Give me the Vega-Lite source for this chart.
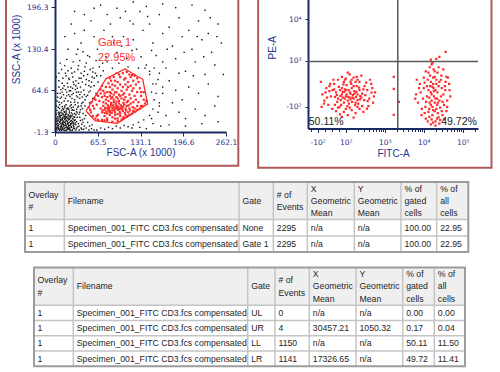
{
"$schema":"https://vega.github.io/schema/vega-lite/v6.json",
"background":"#ffffff",
"padding":{"left":5,"top":-35,"right":2,"bottom":2},
"spacing":12,
"config":{
 "view":{"stroke":null},
 "font":"Liberation Sans",
 "axis":{"grid":false,"domainColor":"#1c2a63","domainWidth":2,"tickColor":"#1c2a63","tickWidth":1,"labelColor":"#2a3590","labelFont":"DejaVu Sans","labelFontSize":7.5,"titleColor":"#2a3590","titleFont":"Liberation Sans","titleFontSize":10,"titleFontWeight":"normal","labelFlush":false,"labelOverlap":false}
},
"datasets":{
 "fsc_ssc":[
{"fsc":3,"ssc":2,"g":0},{"fsc":5,"ssc":4,"g":0},{"fsc":7,"ssc":1,"g":0},{"fsc":9,"ssc":3,"g":0},{"fsc":11,"ssc":6,"g":0},{"fsc":13,"ssc":2,"g":0},{"fsc":15,"ssc":5,"g":0},{"fsc":17,"ssc":1,"g":0},{"fsc":19,"ssc":4,"g":0},{"fsc":21,"ssc":7,"g":0},{"fsc":23,"ssc":3,"g":0},{"fsc":25,"ssc":6,"g":0},{"fsc":27,"ssc":2,"g":0},{"fsc":4,"ssc":8,"g":0},{"fsc":6,"ssc":11,"g":0},{"fsc":8,"ssc":7,"g":0},{"fsc":10,"ssc":10,"g":0},{"fsc":12,"ssc":13,"g":0},{"fsc":14,"ssc":9,"g":0},{"fsc":16,"ssc":12,"g":0},{"fsc":18,"ssc":8,"g":0},{"fsc":20,"ssc":11,"g":0},{"fsc":22,"ssc":14,"g":0},{"fsc":24,"ssc":10,"g":0},{"fsc":26,"ssc":13,"g":0},{"fsc":28,"ssc":9,"g":0},{"fsc":3,"ssc":15,"g":0},{"fsc":5,"ssc":18,"g":0},{"fsc":7,"ssc":14,"g":0},{"fsc":9,"ssc":17,"g":0},{"fsc":11,"ssc":20,"g":0},{"fsc":13,"ssc":16,"g":0},{"fsc":15,"ssc":19,"g":0},{"fsc":17,"ssc":22,"g":0},{"fsc":19,"ssc":15,"g":0},{"fsc":21,"ssc":18,"g":0},{"fsc":23,"ssc":21,"g":0},{"fsc":25,"ssc":17,"g":0},{"fsc":27,"ssc":20,"g":0},{"fsc":4,"ssc":23,"g":0},{"fsc":6,"ssc":26,"g":0},{"fsc":8,"ssc":22,"g":0},{"fsc":10,"ssc":25,"g":0},{"fsc":12,"ssc":28,"g":0},{"fsc":14,"ssc":24,"g":0},{"fsc":16,"ssc":27,"g":0},{"fsc":18,"ssc":23,"g":0},{"fsc":20,"ssc":26,"g":0},{"fsc":22,"ssc":29,"g":0},{"fsc":24,"ssc":25,"g":0},{"fsc":2,"ssc":5,"g":0},{"fsc":6,"ssc":3,"g":0},{"fsc":10,"ssc":1,"g":0},{"fsc":14,"ssc":4,"g":0},{"fsc":18,"ssc":2,"g":0},{"fsc":22,"ssc":5,"g":0},{"fsc":26,"ssc":1,"g":0},{"fsc":30,"ssc":4,"g":0},{"fsc":4,"ssc":12,"g":0},{"fsc":8,"ssc":15,"g":0},{"fsc":12,"ssc":11,"g":0},{"fsc":16,"ssc":16,"g":0},{"fsc":20,"ssc":13,"g":0},{"fsc":24,"ssc":16,"g":0},{"fsc":28,"ssc":13,"g":0},{"fsc":32,"ssc":10,"g":0},{"fsc":3,"ssc":20,"g":0},{"fsc":7,"ssc":24,"g":0},{"fsc":11,"ssc":19,"g":0},{"fsc":15,"ssc":23,"g":0},{"fsc":19,"ssc":20,"g":0},{"fsc":23,"ssc":24,"g":0},{"fsc":27,"ssc":27,"g":0},{"fsc":31,"ssc":18,"g":0},{"fsc":6,"ssc":30,"g":0},{"fsc":10,"ssc":33,"g":0},{"fsc":14,"ssc":31,"g":0},{"fsc":18,"ssc":35,"g":0},{"fsc":22,"ssc":32,"g":0},{"fsc":9,"ssc":5,"g":0},{"fsc":13,"ssc":8,"g":0},{"fsc":17,"ssc":6,"g":0},{"fsc":21,"ssc":9,"g":0},{"fsc":25,"ssc":7,"g":0},{"fsc":29,"ssc":11,"g":0},{"fsc":11,"ssc":3,"g":0},{"fsc":15,"ssc":1,"g":0},{"fsc":19,"ssc":6,"g":0},{"fsc":23,"ssc":1,"g":0},{"fsc":5,"ssc":6,"g":0},{"fsc":8,"ssc":19,"g":0},{"fsc":12,"ssc":22,"g":0},{"fsc":16,"ssc":20,"g":0},{"fsc":13,"ssc":26,"g":0},{"fsc":17,"ssc":29,"g":0},{"fsc":21,"ssc":24,"g":0},{"fsc":25,"ssc":29,"g":0},{"fsc":29,"ssc":23,"g":0},{"fsc":33,"ssc":15,"g":0},{"fsc":35,"ssc":7,"g":0},{"fsc":34,"ssc":22,"g":0},{"fsc":30,"ssc":28,"g":0},{"fsc":26,"ssc":33,"g":0},{"fsc":20,"ssc":37,"g":0},{"fsc":7,"ssc":28,"g":0},{"fsc":2,"ssc":27,"g":0},{"fsc":2,"ssc":11,"g":0},{"fsc":1,"ssc":17,"g":0},{"fsc":9,"ssc":12,"g":0},{"fsc":14,"ssc":14,"g":0},{"fsc":18,"ssc":17,"g":0},{"fsc":10,"ssc":8,"g":0},{"fsc":6,"ssc":16,"g":0},{"fsc":12,"ssc":5,"g":0},{"fsc":16,"ssc":9,"g":0},{"fsc":20,"ssc":3,"g":0},{"fsc":24,"ssc":12,"g":0},{"fsc":28,"ssc":5,"g":0},{"fsc":32,"ssc":2,"g":0},{"fsc":36,"ssc":12,"g":0},{"fsc":30,"ssc":17,"g":0},
{"fsc":1,"ssc":1,"g":0},{"fsc":3,"ssc":5,"g":0},{"fsc":5,"ssc":9,"g":0},{"fsc":7,"ssc":3,"g":0},{"fsc":9,"ssc":8,"g":0},{"fsc":11,"ssc":13,"g":0},{"fsc":13,"ssc":11,"g":0},{"fsc":15,"ssc":14,"g":0},{"fsc":17,"ssc":10,"g":0},{"fsc":19,"ssc":12,"g":0},{"fsc":21,"ssc":4,"g":0},{"fsc":23,"ssc":9,"g":0},{"fsc":25,"ssc":12,"g":0},{"fsc":27,"ssc":15,"g":0},{"fsc":29,"ssc":7,"g":0},{"fsc":31,"ssc":13,"g":0},{"fsc":33,"ssc":5,"g":0},{"fsc":2,"ssc":20,"g":0},{"fsc":4,"ssc":17,"g":0},{"fsc":6,"ssc":21,"g":0},{"fsc":8,"ssc":25,"g":0},{"fsc":10,"ssc":18,"g":0},{"fsc":12,"ssc":16,"g":0},{"fsc":14,"ssc":20,"g":0},{"fsc":16,"ssc":24,"g":0},{"fsc":18,"ssc":27,"g":0},{"fsc":20,"ssc":21,"g":0},{"fsc":22,"ssc":19,"g":0},{"fsc":24,"ssc":22,"g":0},{"fsc":26,"ssc":24,"g":0},{"fsc":28,"ssc":18,"g":0},{"fsc":30,"ssc":22,"g":0},{"fsc":32,"ssc":26,"g":0},{"fsc":34,"ssc":29,"g":0},{"fsc":5,"ssc":29,"g":0},{"fsc":9,"ssc":30,"g":0},{"fsc":13,"ssc":34,"g":0},{"fsc":17,"ssc":32,"g":0},{"fsc":21,"ssc":35,"g":0},{"fsc":25,"ssc":37,"g":0},{"fsc":29,"ssc":33,"g":0},{"fsc":33,"ssc":31,"g":0},{"fsc":37,"ssc":27,"g":0},{"fsc":39,"ssc":17,"g":0},{"fsc":37,"ssc":8,"g":0},{"fsc":41,"ssc":3,"g":0},{"fsc":3,"ssc":33,"g":0},{"fsc":7,"ssc":36,"g":0},{"fsc":11,"ssc":39,"g":0},{"fsc":15,"ssc":37,"g":0},
{"fsc":36,"ssc":40,"g":0},{"fsc":41,"ssc":44,"g":0},{"fsc":46,"ssc":50,"g":0},{"fsc":50,"ssc":57,"g":0},{"fsc":54,"ssc":64,"g":0},{"fsc":45,"ssc":58,"g":0},{"fsc":40,"ssc":62,"g":0},{"fsc":35,"ssc":54,"g":0},{"fsc":30,"ssc":46,"g":0},{"fsc":26,"ssc":58,"g":0},{"fsc":22,"ssc":64,"g":0},{"fsc":18,"ssc":56,"g":0},{"fsc":14,"ssc":48,"g":0},{"fsc":10,"ssc":54,"g":0},{"fsc":6,"ssc":46,"g":0},{"fsc":2,"ssc":40,"g":0},{"fsc":4,"ssc":54,"g":0},{"fsc":8,"ssc":60,"g":0},{"fsc":12,"ssc":68,"g":0},{"fsc":16,"ssc":66,"g":0},{"fsc":20,"ssc":70,"g":0},{"fsc":24,"ssc":64,"g":0},{"fsc":28,"ssc":78,"g":0},{"fsc":32,"ssc":72,"g":0},{"fsc":36,"ssc":76,"g":0},{"fsc":40,"ssc":84,"g":0},{"fsc":44,"ssc":88,"g":0},{"fsc":48,"ssc":82,"g":0},{"fsc":52,"ssc":72,"g":0},{"fsc":56,"ssc":78,"g":0},{"fsc":60,"ssc":84,"g":0},{"fsc":64,"ssc":88,"g":0},{"fsc":58,"ssc":94,"g":0},{"fsc":54,"ssc":98,"g":0},{"fsc":46,"ssc":102,"g":0},{"fsc":36,"ssc":104,"g":0},{"fsc":26,"ssc":92,"g":0},{"fsc":16,"ssc":92,"g":0},{"fsc":6,"ssc":92,"g":0},{"fsc":2,"ssc":86,"g":0},{"fsc":31,"ssc":42,"g":0},{"fsc":27,"ssc":34,"g":0},{"fsc":23,"ssc":40,"g":0},{"fsc":19,"ssc":36,"g":0},{"fsc":15,"ssc":30,"g":0},{"fsc":11,"ssc":28,"g":0},{"fsc":35,"ssc":38,"g":0},{"fsc":39,"ssc":34,"g":0},{"fsc":43,"ssc":28,"g":0},{"fsc":45,"ssc":20,"g":0},{"fsc":43,"ssc":14,"g":0},{"fsc":48,"ssc":5,"g":0},{"fsc":52,"ssc":2,"g":0},{"fsc":57,"ssc":10,"g":0},{"fsc":38,"ssc":58,"g":0},{"fsc":42,"ssc":54,"g":0},{"fsc":33,"ssc":62,"g":0},{"fsc":27,"ssc":68,"g":0},{"fsc":21,"ssc":84,"g":0},{"fsc":11,"ssc":76,"g":0},
{"fsc":38,"ssc":30,"g":0},{"fsc":42,"ssc":18,"g":0},{"fsc":45,"ssc":8,"g":0},{"fsc":40,"ssc":40,"g":0},{"fsc":35,"ssc":45,"g":0},{"fsc":30,"ssc":50,"g":0},{"fsc":25,"ssc":42,"g":0},{"fsc":20,"ssc":48,"g":0},{"fsc":15,"ssc":40,"g":0},{"fsc":10,"ssc":45,"g":0},{"fsc":5,"ssc":38,"g":0},{"fsc":8,"ssc":52,"g":0},{"fsc":13,"ssc":58,"g":0},{"fsc":18,"ssc":62,"g":0},{"fsc":23,"ssc":55,"g":0},{"fsc":28,"ssc":60,"g":0},{"fsc":33,"ssc":56,"g":0},{"fsc":38,"ssc":52,"g":0},{"fsc":43,"ssc":46,"g":0},{"fsc":48,"ssc":55,"g":0},{"fsc":52,"ssc":62,"g":0},{"fsc":44,"ssc":65,"g":0},{"fsc":39,"ssc":70,"g":0},{"fsc":34,"ssc":68,"g":0},{"fsc":29,"ssc":74,"g":0},{"fsc":24,"ssc":70,"g":0},{"fsc":19,"ssc":76,"g":0},{"fsc":14,"ssc":72,"g":0},{"fsc":9,"ssc":66,"g":0},{"fsc":4,"ssc":60,"g":0},{"fsc":6,"ssc":80,"g":0},{"fsc":12,"ssc":84,"g":0},{"fsc":17,"ssc":88,"g":0},{"fsc":22,"ssc":82,"g":0},{"fsc":27,"ssc":86,"g":0},{"fsc":32,"ssc":80,"g":0},{"fsc":37,"ssc":84,"g":0},{"fsc":42,"ssc":78,"g":0},{"fsc":47,"ssc":74,"g":0},{"fsc":52,"ssc":80,"g":0},{"fsc":57,"ssc":86,"g":0},{"fsc":62,"ssc":92,"g":0},{"fsc":55,"ssc":70,"g":0},{"fsc":50,"ssc":90,"g":0},{"fsc":45,"ssc":95,"g":0},{"fsc":40,"ssc":92,"g":0},{"fsc":35,"ssc":98,"g":0},{"fsc":30,"ssc":94,"g":0},{"fsc":25,"ssc":100,"g":0},{"fsc":20,"ssc":96,"g":0},{"fsc":15,"ssc":104,"g":0},{"fsc":10,"ssc":98,"g":0},{"fsc":47,"ssc":25,"g":0},{"fsc":50,"ssc":14,"g":0},{"fsc":53,"ssc":8,"g":0},{"fsc":56,"ssc":4,"g":0},{"fsc":60,"ssc":2,"g":0},{"fsc":44,"ssc":3,"g":0},{"fsc":40,"ssc":5,"g":0},{"fsc":37,"ssc":2,"g":0},{"fsc":41,"ssc":11,"g":0},{"fsc":38,"ssc":22,"g":0},{"fsc":33,"ssc":35,"g":0},{"fsc":28,"ssc":38,"g":0},{"fsc":24,"ssc":46,"g":0},{"fsc":36,"ssc":62,"g":0},{"fsc":31,"ssc":66,"g":0},{"fsc":26,"ssc":52,"g":0},{"fsc":21,"ssc":58,"g":0},{"fsc":16,"ssc":52,"g":0},{"fsc":11,"ssc":62,"g":0},{"fsc":6,"ssc":70,"g":0},{"fsc":3,"ssc":48,"g":0},{"fsc":7,"ssc":42,"g":0},{"fsc":12,"ssc":36,"g":0},{"fsc":17,"ssc":42,"g":0},{"fsc":42,"ssc":36,"g":0},{"fsc":46,"ssc":40,"g":0},{"fsc":53,"ssc":45,"g":0},{"fsc":58,"ssc":52,"g":0},{"fsc":63,"ssc":60,"g":0},{"fsc":60,"ssc":72,"g":0},{"fsc":66,"ssc":78,"g":0},{"fsc":70,"ssc":88,"g":0},{"fsc":74,"ssc":96,"g":0},{"fsc":68,"ssc":102,"g":0},{"fsc":58,"ssc":100,"g":0},{"fsc":48,"ssc":108,"g":0},{"fsc":38,"ssc":112,"g":0},{"fsc":28,"ssc":110,"g":0},{"fsc":18,"ssc":114,"g":0},{"fsc":8,"ssc":108,"g":0},{"fsc":33,"ssc":122,"g":0},{"fsc":43,"ssc":126,"g":0},{"fsc":53,"ssc":118,"g":0},{"fsc":63,"ssc":112,"g":0},{"fsc":73,"ssc":108,"g":0},{"fsc":78,"ssc":118,"g":0},{"fsc":64,"ssc":2,"g":0},{"fsc":70,"ssc":5,"g":0},{"fsc":76,"ssc":3,"g":0},{"fsc":82,"ssc":6,"g":0},{"fsc":88,"ssc":4,"g":0},{"fsc":94,"ssc":8,"g":0},{"fsc":100,"ssc":5,"g":0},{"fsc":106,"ssc":9,"g":0},{"fsc":112,"ssc":7,"g":0},{"fsc":120,"ssc":10,"g":0},{"fsc":128,"ssc":14,"g":0},{"fsc":136,"ssc":18,"g":0},{"fsc":145,"ssc":25,"g":0},{"fsc":150,"ssc":35,"g":0},{"fsc":152,"ssc":50,"g":0},{"fsc":148,"ssc":62,"g":0},{"fsc":150,"ssc":75,"g":0},{"fsc":145,"ssc":95,"g":0},{"fsc":138,"ssc":100,"g":0},{"fsc":155,"ssc":60,"g":0},{"fsc":160,"ssc":45,"g":0},{"fsc":158,"ssc":30,"g":0},{"fsc":148,"ssc":20,"g":0},{"fsc":165,"ssc":70,"g":0},
{"fsc":80,"ssc":110,"g":0},{"fsc":95,"ssc":125,"g":0},{"fsc":110,"ssc":115,"g":0},{"fsc":125,"ssc":130,"g":0},{"fsc":140,"ssc":105,"g":0},{"fsc":155,"ssc":120,"g":0},{"fsc":170,"ssc":100,"g":0},{"fsc":185,"ssc":115,"g":0},{"fsc":200,"ssc":95,"g":0},{"fsc":215,"ssc":110,"g":0},{"fsc":230,"ssc":90,"g":0},{"fsc":245,"ssc":105,"g":0},{"fsc":90,"ssc":140,"g":0},{"fsc":105,"ssc":150,"g":0},{"fsc":120,"ssc":145,"g":0},{"fsc":135,"ssc":160,"g":0},{"fsc":150,"ssc":140,"g":0},{"fsc":165,"ssc":155,"g":0},{"fsc":180,"ssc":135,"g":0},{"fsc":195,"ssc":150,"g":0},{"fsc":210,"ssc":130,"g":0},{"fsc":225,"ssc":145,"g":0},{"fsc":240,"ssc":125,"g":0},{"fsc":255,"ssc":140,"g":0},{"fsc":85,"ssc":170,"g":0},{"fsc":100,"ssc":180,"g":0},{"fsc":115,"ssc":175,"g":0},{"fsc":130,"ssc":190,"g":0},{"fsc":145,"ssc":170,"g":0},{"fsc":160,"ssc":185,"g":0},{"fsc":175,"ssc":165,"g":0},{"fsc":190,"ssc":180,"g":0},{"fsc":205,"ssc":160,"g":0},{"fsc":220,"ssc":175,"g":0},{"fsc":235,"ssc":155,"g":0},{"fsc":250,"ssc":170,"g":0},{"fsc":70,"ssc":200,"g":0},{"fsc":95,"ssc":195,"g":0},{"fsc":120,"ssc":205,"g":0},{"fsc":140,"ssc":198,"g":0},{"fsc":165,"ssc":202,"g":0},{"fsc":185,"ssc":196,"g":0},{"fsc":210,"ssc":200,"g":0},{"fsc":230,"ssc":192,"g":0},{"fsc":60,"ssc":150,"g":0},{"fsc":65,"ssc":130,"g":0},{"fsc":55,"ssc":175,"g":0},{"fsc":45,"ssc":160,"g":0},{"fsc":40,"ssc":140,"g":0},{"fsc":35,"ssc":130,"g":0},{"fsc":30,"ssc":155,"g":0},{"fsc":50,"ssc":120,"g":0},{"fsc":75,"ssc":160,"g":0},{"fsc":20,"ssc":130,"g":0},{"fsc":25,"ssc":170,"g":0},{"fsc":15,"ssc":150,"g":0},{"fsc":45,"ssc":185,"g":0},{"fsc":30,"ssc":190,"g":0},{"fsc":60,"ssc":195,"g":0},{"fsc":80,"ssc":185,"g":0},{"fsc":155,"ssc":75,"g":0},{"fsc":165,"ssc":60,"g":0},{"fsc":175,"ssc":80,"g":0},{"fsc":185,"ssc":65,"g":0},{"fsc":195,"ssc":50,"g":0},{"fsc":205,"ssc":70,"g":0},{"fsc":220,"ssc":60,"g":0},{"fsc":235,"ssc":75,"g":0},{"fsc":250,"ssc":55,"g":0},{"fsc":160,"ssc":40,"g":0},{"fsc":170,"ssc":25,"g":0},{"fsc":180,"ssc":45,"g":0},{"fsc":190,"ssc":30,"g":0},{"fsc":200,"ssc":20,"g":0},{"fsc":215,"ssc":35,"g":0},{"fsc":230,"ssc":25,"g":0},{"fsc":245,"ssc":40,"g":0},{"fsc":175,"ssc":10,"g":0},{"fsc":200,"ssc":8,"g":0},{"fsc":225,"ssc":12,"g":0},{"fsc":250,"ssc":15,"g":0},{"fsc":258,"ssc":90,"g":0},{"fsc":120,"ssc":170,"g":0},{"fsc":108,"ssc":190,"g":0},{"fsc":148,"ssc":128,"g":0},{"fsc":132,"ssc":118,"g":0},{"fsc":118,"ssc":128,"g":0},{"fsc":102,"ssc":135,"g":0},{"fsc":88,"ssc":150,"g":0},{"fsc":160,"ssc":92,"g":0},{"fsc":172,"ssc":130,"g":0},{"fsc":190,"ssc":92,"g":0},{"fsc":212,"ssc":88,"g":0},{"fsc":228,"ssc":118,"g":0},{"fsc":248,"ssc":150,"g":0},{"fsc":142,"ssc":182,"g":0},{"fsc":198,"ssc":125,"g":0},{"fsc":218,"ssc":150,"g":0},{"fsc":238,"ssc":180,"g":0},{"fsc":128,"ssc":100,"g":0},{"fsc":112,"ssc":102,"g":0},{"fsc":98,"ssc":108,"g":0},{"fsc":152,"ssc":100,"g":0},{"fsc":165,"ssc":110,"g":0},{"fsc":88,"ssc":100,"g":0},{"fsc":94,"ssc":92,"g":0},{"fsc":145,"ssc":90,"g":0},{"fsc":158,"ssc":82,"g":0},{"fsc":150,"ssc":12,"g":0},{"fsc":162,"ssc":8,"g":0},{"fsc":140,"ssc":4,"g":0},{"fsc":130,"ssc":6,"g":0},{"fsc":118,"ssc":5,"g":0},
{"fsc":72,"ssc":30,"g":1},{"fsc":76,"ssc":34,"g":1},{"fsc":80,"ssc":28,"g":1},{"fsc":84,"ssc":32,"g":1},{"fsc":88,"ssc":36,"g":1},{"fsc":92,"ssc":30,"g":1},{"fsc":96,"ssc":34,"g":1},{"fsc":100,"ssc":28,"g":1},{"fsc":104,"ssc":32,"g":1},{"fsc":108,"ssc":36,"g":1},{"fsc":74,"ssc":40,"g":1},{"fsc":78,"ssc":44,"g":1},{"fsc":82,"ssc":38,"g":1},{"fsc":86,"ssc":42,"g":1},{"fsc":90,"ssc":46,"g":1},{"fsc":94,"ssc":40,"g":1},{"fsc":98,"ssc":44,"g":1},{"fsc":102,"ssc":38,"g":1},{"fsc":106,"ssc":42,"g":1},{"fsc":110,"ssc":46,"g":1},{"fsc":76,"ssc":24,"g":1},{"fsc":80,"ssc":20,"g":1},{"fsc":84,"ssc":26,"g":1},{"fsc":88,"ssc":22,"g":1},{"fsc":92,"ssc":26,"g":1},{"fsc":96,"ssc":20,"g":1},{"fsc":100,"ssc":24,"g":1},{"fsc":104,"ssc":20,"g":1},{"fsc":108,"ssc":26,"g":1},{"fsc":112,"ssc":30,"g":1},{"fsc":70,"ssc":36,"g":1},{"fsc":74,"ssc":46,"g":1},{"fsc":78,"ssc":50,"g":1},{"fsc":82,"ssc":48,"g":1},{"fsc":86,"ssc":52,"g":1},{"fsc":90,"ssc":50,"g":1},{"fsc":94,"ssc":54,"g":1},{"fsc":98,"ssc":48,"g":1},{"fsc":102,"ssc":52,"g":1},{"fsc":106,"ssc":50,"g":1},{"fsc":110,"ssc":40,"g":1},{"fsc":114,"ssc":36,"g":1},{"fsc":116,"ssc":44,"g":1},{"fsc":118,"ssc":28,"g":1},{"fsc":79,"ssc":31,"g":1},{"fsc":83,"ssc":35,"g":1},{"fsc":87,"ssc":29,"g":1},{"fsc":91,"ssc":33,"g":1},{"fsc":95,"ssc":37,"g":1},{"fsc":99,"ssc":31,"g":1},{"fsc":103,"ssc":35,"g":1},{"fsc":85,"ssc":39,"g":1},{"fsc":89,"ssc":41,"g":1},{"fsc":93,"ssc":43,"g":1},{"fsc":97,"ssc":39,"g":1},{"fsc":101,"ssc":41,"g":1},{"fsc":81,"ssc":41,"g":1},{"fsc":77,"ssc":37,"g":1},{"fsc":73,"ssc":33,"g":1},{"fsc":105,"ssc":45,"g":1},{"fsc":109,"ssc":33,"g":1},{"fsc":113,"ssc":41,"g":1},{"fsc":86,"ssc":45,"g":1},{"fsc":94,"ssc":47,"g":1},{"fsc":90,"ssc":38,"g":1},{"fsc":84,"ssc":30,"g":1},{"fsc":96,"ssc":27,"g":1},{"fsc":88,"ssc":33,"g":1},{"fsc":92,"ssc":36,"g":1},{"fsc":80,"ssc":36,"g":1},{"fsc":100,"ssc":36,"g":1},{"fsc":104,"ssc":39,"g":1},{"fsc":98,"ssc":35,"g":1},{"fsc":82,"ssc":33,"g":1},{"fsc":76,"ssc":29,"g":1},{"fsc":107,"ssc":29,"g":1},{"fsc":111,"ssc":24,"g":1},{"fsc":115,"ssc":33,"g":1},{"fsc":119,"ssc":38,"g":1},
{"fsc":55,"ssc":30,"g":1},{"fsc":58,"ssc":24,"g":1},{"fsc":62,"ssc":20,"g":1},{"fsc":66,"ssc":26,"g":1},{"fsc":60,"ssc":36,"g":1},{"fsc":64,"ssc":42,"g":1},{"fsc":68,"ssc":48,"g":1},{"fsc":62,"ssc":50,"g":1},{"fsc":66,"ssc":56,"g":1},{"fsc":70,"ssc":60,"g":1},{"fsc":74,"ssc":64,"g":1},{"fsc":78,"ssc":70,"g":1},{"fsc":82,"ssc":76,"g":1},{"fsc":86,"ssc":80,"g":1},{"fsc":72,"ssc":72,"g":1},{"fsc":80,"ssc":62,"g":1},{"fsc":88,"ssc":66,"g":1},{"fsc":92,"ssc":72,"g":1},{"fsc":96,"ssc":78,"g":1},{"fsc":100,"ssc":86,"g":1},{"fsc":104,"ssc":92,"g":1},{"fsc":108,"ssc":84,"g":1},{"fsc":112,"ssc":78,"g":1},{"fsc":116,"ssc":86,"g":1},{"fsc":120,"ssc":80,"g":1},{"fsc":124,"ssc":74,"g":1},{"fsc":128,"ssc":78,"g":1},{"fsc":130,"ssc":68,"g":1},{"fsc":126,"ssc":62,"g":1},{"fsc":122,"ssc":56,"g":1},{"fsc":118,"ssc":64,"g":1},{"fsc":114,"ssc":58,"g":1},{"fsc":110,"ssc":66,"g":1},{"fsc":106,"ssc":60,"g":1},{"fsc":102,"ssc":64,"g":1},{"fsc":98,"ssc":58,"g":1},{"fsc":94,"ssc":62,"g":1},{"fsc":90,"ssc":58,"g":1},{"fsc":86,"ssc":60,"g":1},{"fsc":84,"ssc":56,"g":1},{"fsc":76,"ssc":56,"g":1},{"fsc":72,"ssc":54,"g":1},{"fsc":132,"ssc":56,"g":1},{"fsc":136,"ssc":50,"g":1},{"fsc":138,"ssc":44,"g":1},{"fsc":134,"ssc":40,"g":1},{"fsc":130,"ssc":36,"g":1},{"fsc":126,"ssc":34,"g":1},{"fsc":122,"ssc":31,"g":1},{"fsc":114,"ssc":26,"g":1},{"fsc":110,"ssc":23,"g":1},{"fsc":106,"ssc":21,"g":1},{"fsc":102,"ssc":18,"g":1},{"fsc":96,"ssc":16,"g":1},{"fsc":88,"ssc":15,"g":1},{"fsc":80,"ssc":17,"g":1},{"fsc":72,"ssc":18,"g":1},{"fsc":66,"ssc":18,"g":1},{"fsc":128,"ssc":46,"g":1},{"fsc":124,"ssc":50,"g":1},{"fsc":120,"ssc":46,"g":1},{"fsc":126,"ssc":40,"g":1},{"fsc":122,"ssc":36,"g":1},{"fsc":132,"ssc":62,"g":1},{"fsc":136,"ssc":62,"g":1},{"fsc":126,"ssc":84,"g":1},{"fsc":114,"ssc":90,"g":1},{"fsc":110,"ssc":94,"g":1},{"fsc":98,"ssc":90,"g":1},{"fsc":90,"ssc":86,"g":1},{"fsc":84,"ssc":70,"g":1},{"fsc":70,"ssc":66,"g":1},{"fsc":64,"ssc":58,"g":1},{"fsc":58,"ssc":40,"g":1},{"fsc":54,"ssc":34,"g":1},{"fsc":52,"ssc":38,"g":1},{"fsc":56,"ssc":46,"g":1},{"fsc":60,"ssc":52,"g":1},{"fsc":140,"ssc":48,"g":1},{"fsc":132,"ssc":40,"g":1},{"fsc":120,"ssc":32,"g":1},{"fsc":105,"ssc":22,"g":1},{"fsc":92,"ssc":20,"g":1},{"fsc":76,"ssc":17,"g":1},{"fsc":64,"ssc":24,"g":1},{"fsc":116,"ssc":52,"g":1},{"fsc":112,"ssc":48,"g":1},{"fsc":108,"ssc":54,"g":1},{"fsc":104,"ssc":58,"g":1},{"fsc":100,"ssc":56,"g":1},{"fsc":96,"ssc":52,"g":1},{"fsc":92,"ssc":62,"g":1},{"fsc":88,"ssc":54,"g":1},{"fsc":84,"ssc":62,"g":1},{"fsc":80,"ssc":54,"g":1},{"fsc":76,"ssc":60,"g":1},{"fsc":120,"ssc":68,"g":1},{"fsc":116,"ssc":72,"g":1},{"fsc":112,"ssc":70,"g":1},{"fsc":108,"ssc":74,"g":1},{"fsc":104,"ssc":70,"g":1},{"fsc":100,"ssc":74,"g":1},{"fsc":96,"ssc":68,"g":1},{"fsc":92,"ssc":80,"g":1},{"fsc":88,"ssc":74,"g":1},{"fsc":84,"ssc":84,"g":1},{"fsc":106,"ssc":82,"g":1},{"fsc":118,"ssc":89,"g":1},{"fsc":122,"ssc":88,"g":1}
 ],
 "gate_poly":[{"k":1,"fsc":47.5,"ssc":32.0},{"k":2,"fsc":78.2,"ssc":83.3},{"k":3,"fsc":107.3,"ssc":98.7},{"k":4,"fsc":134.4,"ssc":82.3},{"k":5,"fsc":142.1,"ssc":43.1},{"k":6,"fsc":95.5,"ssc":12.5},{"k":7,"fsc":61.3,"ssc":16.6},{"k":8,"fsc":47.5,"ssc":32.0}],
 "gate_stats":[{"gate":"Gate 1","pct":"22.95%"}],
 "fitc_pe":[
{"fitc":1.80,"pe":2.10},{"fitc":1.90,"pe":2.20},{"fitc":2.00,"pe":2.15},{"fitc":2.10,"pe":2.25},{"fitc":2.20,"pe":2.10},{"fitc":2.30,"pe":2.20},{"fitc":1.85,"pe":2.30},{"fitc":1.95,"pe":2.00},{"fitc":2.05,"pe":2.05},{"fitc":2.15,"pe":2.35},{"fitc":2.25,"pe":2.00},{"fitc":2.35,"pe":2.30},{"fitc":1.75,"pe":2.25},{"fitc":1.88,"pe":1.95},{"fitc":1.98,"pe":2.32},{"fitc":2.08,"pe":1.98},{"fitc":2.18,"pe":2.18},{"fitc":2.28,"pe":2.40},{"fitc":2.40,"pe":2.12},{"fitc":1.82,"pe":2.38},{"fitc":1.92,"pe":2.12},{"fitc":2.02,"pe":2.42},{"fitc":2.12,"pe":2.08},{"fitc":2.22,"pe":2.28},{"fitc":2.32,"pe":1.98},{"fitc":2.42,"pe":2.22},{"fitc":1.78,"pe":2.02},{"fitc":1.86,"pe":2.16},{"fitc":1.96,"pe":2.26},{"fitc":2.06,"pe":2.14},{"fitc":2.16,"pe":2.02},{"fitc":2.26,"pe":2.14},{"fitc":2.36,"pe":2.08},{"fitc":1.72,"pe":2.14},{"fitc":2.45,"pe":2.32},{"fitc":2.00,"pe":2.30},{"fitc":2.10,"pe":2.12},{"fitc":2.20,"pe":2.40},{"fitc":2.30,"pe":2.06},{"fitc":1.90,"pe":2.35},{"fitc":2.04,"pe":1.92},{"fitc":2.14,"pe":2.45},{"fitc":2.24,"pe":1.94},{"fitc":2.34,"pe":2.36},{"fitc":1.84,"pe":1.90},{"fitc":1.94,"pe":2.44},{"fitc":2.50,"pe":2.18},{"fitc":1.70,"pe":2.32},{"fitc":2.12,"pe":2.22},{"fitc":2.02,"pe":2.20},{"fitc":2.22,"pe":2.22},{"fitc":1.92,"pe":2.26},{"fitc":2.07,"pe":2.30},{"fitc":2.17,"pe":2.12},{"fitc":2.27,"pe":2.26},{"fitc":1.97,"pe":2.10},{"fitc":1.87,"pe":2.06},{"fitc":2.37,"pe":2.16},{"fitc":2.47,"pe":2.06},{"fitc":1.77,"pe":2.18},
{"fitc":1.40,"pe":2.20},{"fitc":1.45,"pe":2.05},{"fitc":1.50,"pe":2.35},{"fitc":1.55,"pe":1.95},{"fitc":1.60,"pe":2.45},{"fitc":1.62,"pe":2.15},{"fitc":1.65,"pe":1.85},{"fitc":1.68,"pe":2.55},{"fitc":1.58,"pe":2.28},{"fitc":1.52,"pe":2.12},{"fitc":2.55,"pe":2.30},{"fitc":2.60,"pe":2.10},{"fitc":2.65,"pe":2.45},{"fitc":2.70,"pe":2.00},{"fitc":2.75,"pe":2.25},{"fitc":2.58,"pe":1.92},{"fitc":2.62,"pe":2.55},{"fitc":2.52,"pe":2.48},{"fitc":2.68,"pe":2.35},{"fitc":2.56,"pe":2.04},{"fitc":1.75,"pe":1.80},{"fitc":1.85,"pe":1.72},{"fitc":1.95,"pe":1.78},{"fitc":2.05,"pe":1.70},{"fitc":2.15,"pe":1.82},{"fitc":2.25,"pe":1.75},{"fitc":2.35,"pe":1.85},{"fitc":2.45,"pe":1.78},{"fitc":1.90,"pe":1.66},{"fitc":2.20,"pe":1.64},{"fitc":1.80,"pe":2.55},{"fitc":1.90,"pe":2.62},{"fitc":2.00,"pe":2.58},{"fitc":2.10,"pe":2.68},{"fitc":2.20,"pe":2.60},{"fitc":2.30,"pe":2.55},{"fitc":2.40,"pe":2.65},{"fitc":2.05,"pe":2.72},{"fitc":1.95,"pe":2.50},{"fitc":2.25,"pe":2.50},{"fitc":2.15,"pe":2.55},{"fitc":1.72,"pe":1.95},{"fitc":2.42,"pe":1.92},{"fitc":2.48,"pe":2.40},{"fitc":1.66,"pe":2.30},{"fitc":1.48,"pe":2.25},{"fitc":2.72,"pe":2.15},{"fitc":2.35,"pe":2.50},{"fitc":1.70,"pe":2.45},{"fitc":2.00,"pe":1.85},{"fitc":2.10,"pe":1.88},{"fitc":2.30,"pe":1.90},{"fitc":1.80,"pe":1.88},{"fitc":2.12,"pe":2.50},{"fitc":1.98,"pe":2.55},{"fitc":2.28,"pe":2.62},{"fitc":1.44,"pe":1.98},{"fitc":2.66,"pe":2.24},{"fitc":1.58,"pe":2.40},{"fitc":2.54,"pe":1.86},
{"fitc":4.20,"pe":2.20},{"fitc":4.30,"pe":2.10},{"fitc":4.25,"pe":2.35},{"fitc":4.15,"pe":2.00},{"fitc":4.35,"pe":2.25},{"fitc":4.22,"pe":1.90},{"fitc":4.32,"pe":2.45},{"fitc":4.18,"pe":2.50},{"fitc":4.28,"pe":1.80},{"fitc":4.12,"pe":2.30},{"fitc":4.40,"pe":2.05},{"fitc":4.08,"pe":2.15},{"fitc":4.38,"pe":2.40},{"fitc":4.24,"pe":2.60},{"fitc":4.34,"pe":1.95},{"fitc":4.14,"pe":1.85},{"fitc":4.44,"pe":2.15},{"fitc":4.20,"pe":2.05},{"fitc":4.30,"pe":2.30},{"fitc":4.26,"pe":2.15},{"fitc":4.16,"pe":2.40},{"fitc":4.36,"pe":1.75},{"fitc":4.10,"pe":2.55},{"fitc":4.46,"pe":2.35},{"fitc":4.22,"pe":1.70},{"fitc":4.32,"pe":2.55},{"fitc":4.28,"pe":2.00},{"fitc":4.18,"pe":2.25},{"fitc":4.42,"pe":1.88},{"fitc":4.06,"pe":2.02},{"fitc":4.50,"pe":2.20},{"fitc":4.24,"pe":2.45},{"fitc":4.34,"pe":2.10},{"fitc":4.14,"pe":2.12},{"fitc":4.38,"pe":1.65},{"fitc":4.20,"pe":1.60},{"fitc":4.30,"pe":1.55},{"fitc":4.26,"pe":2.28},{"fitc":4.12,"pe":1.78},{"fitc":4.40,"pe":2.50},{"fitc":4.22,"pe":2.38},{"fitc":4.32,"pe":1.85},{"fitc":4.28,"pe":2.62},{"fitc":4.18,"pe":1.95},{"fitc":4.36,"pe":2.00},{"fitc":4.16,"pe":2.65},{"fitc":4.46,"pe":1.80},{"fitc":4.08,"pe":2.40},{"fitc":4.48,"pe":2.02},{"fitc":4.24,"pe":1.82},
{"fitc":3.80,"pe":2.20},{"fitc":3.85,"pe":2.00},{"fitc":3.90,"pe":2.45},{"fitc":3.95,"pe":1.85},{"fitc":4.00,"pe":2.60},{"fitc":3.92,"pe":2.25},{"fitc":3.98,"pe":2.10},{"fitc":4.02,"pe":1.75},{"fitc":4.55,"pe":2.30},{"fitc":4.60,"pe":2.05},{"fitc":4.65,"pe":2.45},{"fitc":4.58,"pe":1.80},{"fitc":4.62,"pe":2.60},{"fitc":4.52,"pe":1.60},{"fitc":4.68,"pe":2.15},{"fitc":4.05,"pe":2.75},{"fitc":4.15,"pe":2.85},{"fitc":4.25,"pe":2.80},{"fitc":4.35,"pe":2.72},{"fitc":4.45,"pe":2.65},{"fitc":4.20,"pe":2.92},{"fitc":4.10,"pe":1.55},{"fitc":4.40,"pe":1.50},{"fitc":4.30,"pe":1.45},{"fitc":4.18,"pe":1.48},{"fitc":4.05,"pe":1.62},{"fitc":4.48,"pe":1.70},{"fitc":4.56,"pe":2.50},{"fitc":3.88,"pe":2.35},{"fitc":3.82,"pe":2.55},{"fitc":4.00,"pe":2.35},{"fitc":4.04,"pe":1.90},{"fitc":4.52,"pe":1.95},{"fitc":4.58,"pe":2.62},{"fitc":4.12,"pe":2.72},{"fitc":4.38,"pe":2.85},{"fitc":4.28,"pe":2.75},{"fitc":4.44,"pe":2.55},{"fitc":4.02,"pe":2.48},{"fitc":4.54,"pe":2.40},{"fitc":3.94,"pe":1.70},{"fitc":4.60,"pe":1.90},{"fitc":4.24,"pe":1.52},{"fitc":4.34,"pe":1.62},{"fitc":4.14,"pe":1.66},{"fitc":4.50,"pe":2.80},{"fitc":4.22,"pe":2.95},{"fitc":3.78,"pe":2.10},{"fitc":4.66,"pe":2.30},{"fitc":4.42,"pe":1.58},
{"fitc":4.56,"pe":3.22},{"fitc":4.32,"pe":3.05},{"fitc":4.40,"pe":3.10},{"fitc":4.18,"pe":3.03},
{"fitc":3.23,"pe":2.62},{"fitc":3.23,"pe":2.33},{"fitc":3.23,"pe":1.71},{"fitc":3.36,"pe":2.02},{"fitc":1.36,"pe":2.50},{"fitc":1.38,"pe":1.90}
 ],
 "quad_stats":[{"quad":"LL","pct":"50.11%"},{"quad":"LR","pct":"49.72%"}],
 "cols":[
  {"key":"overlay","i":0,"header":"Overlay\n#"},
  {"key":"filename","i":1,"header":"Filename"},
  {"key":"gate","i":2,"header":"Gate"},
  {"key":"events","i":3,"header":"# of\nEvents"},
  {"key":"xmean","i":4,"header":"X\nGeometric\nMean"},
  {"key":"ymean","i":5,"header":"Y\nGeometric\nMean"},
  {"key":"pgated","i":6,"header":"% of\ngated\ncells"},
  {"key":"pall","i":7,"header":"% of\nall\ncells"}
 ],
 "t1":[
  {"row":1,"overlay":"1","filename":"Specimen_001_FITC CD3.fcs compensated","gate":"None","events":"2295","xmean":"n/a","ymean":"n/a","pgated":"100.00","pall":"22.95"},
  {"row":2,"overlay":"1","filename":"Specimen_001_FITC CD3.fcs compensated","gate":"Gate 1","events":"2295","xmean":"n/a","ymean":"n/a","pgated":"100.00","pall":"22.95"}
 ],
 "t2":[
  {"row":1,"overlay":"1","filename":"Specimen_001_FITC CD3.fcs compensated","gate":"UL","events":"0","xmean":"n/a","ymean":"n/a","pgated":"0.00","pall":"0.00"},
  {"row":2,"overlay":"1","filename":"Specimen_001_FITC CD3.fcs compensated","gate":"UR","events":"4","xmean":"30457.21","ymean":"1050.32","pgated":"0.17","pall":"0.04"},
  {"row":3,"overlay":"1","filename":"Specimen_001_FITC CD3.fcs compensated","gate":"LL","events":"1150","xmean":"n/a","ymean":"n/a","pgated":"50.11","pall":"11.50"},
  {"row":4,"overlay":"1","filename":"Specimen_001_FITC CD3.fcs compensated","gate":"LR","events":"1141","xmean":"17326.65","ymean":"n/a","pgated":"49.72","pall":"11.41"}
 ]
},
"vconcat":[
 {"spacing":17,"hconcat":[
  {"width":171,"height":166,
   "layer":[
    {"data":{"name":"fsc_ssc"},"transform":[{"filter":"datum.g==0"}],"mark":{"type":"point","shape":"square","filled":true,"size":2,"opacity":1,"strokeWidth":0,"clip":true,"color":"#141414"},
     "encoding":{
      "x":{"field":"fsc","type":"quantitative","title":"FSC-A (x 1000)","scale":{"domain":[0,262.1],"zero":false,"nice":false},
           "axis":{"values":[0,16.4,32.8,49.1,65.5,81.9,98.3,114.7,131.1,147.5,163.8,180.2,196.6,213,229.4,245.7,262.1],"labelExpr":"indexof([0,65.5,131.1,196.6,262.1],datum.value)>=0?''+datum.value:''","tickSize":{"condition":{"test":"indexof([0,65.5,131.1,196.6,262.1],datum.value)>=0","value":4},"value":2},"labelOverlap":false,"labelPadding":2,"titlePadding":2}},
      "y":{"field":"ssc","type":"quantitative","title":"SSC-A (x 1000)","scale":{"domain":[-1.3,262.1],"zero":false,"nice":false},
           "axis":{"values":[-1.3,15.2,31.7,48.2,64.6,81.1,97.5,114,130.4,146.9,163.4,179.8,196.3],"labelExpr":"indexof([-1.3,64.6,130.4,196.3],datum.value)>=0?''+datum.value:''","tickSize":{"condition":{"test":"indexof([-1.3,64.6,130.4,196.3],datum.value)>=0","value":4},"value":2},"labelOverlap":false,"labelPadding":3,"titlePadding":5}}}},
    {"data":{"name":"fsc_ssc"},"transform":[{"filter":"datum.g==1"}],"mark":{"type":"point","shape":"square","filled":true,"size":5,"opacity":1,"strokeWidth":0,"clip":true,"color":"#ff2b2b"},
     "encoding":{"x":{"field":"fsc","type":"quantitative","title":"FSC-A (x 1000)"},"y":{"field":"ssc","type":"quantitative","title":"SSC-A (x 1000)"}}},
    {"data":{"name":"gate_poly"},"mark":{"type":"line","color":"#ff2020","strokeWidth":1.2},
     "encoding":{"x":{"field":"fsc","type":"quantitative","title":"FSC-A (x 1000)"},"y":{"field":"ssc","type":"quantitative","title":"SSC-A (x 1000)"},"order":{"field":"k","type":"quantitative"}}},
    {"data":{"name":"gate_stats"},"mark":{"type":"text","align":"left","baseline":"middle","fontSize":11,"color":"#ff3030"},
     "encoding":{"x":{"datum":65.9,"type":"quantitative"},"y":{"datum":139.3,"type":"quantitative"},"text":{"field":"gate"}}},
    {"data":{"name":"gate_stats"},"mark":{"type":"text","align":"left","baseline":"middle","fontSize":11,"color":"#ff3030"},
     "encoding":{"x":{"datum":65.9,"type":"quantitative"},"y":{"datum":115.5,"type":"quantitative"},"text":{"field":"pct"}}},
    {"data":{"values":[{}]},"mark":{"type":"rect","filled":false,"color":"#b05a5a","strokeWidth":2},
     "encoding":{"x":{"datum":-75.1,"type":"quantitative"},"x2":{"datum":280.95},"y":{"datum":-54.8,"type":"quantitative"},"y2":{"datum":262.1}}}
   ]},
  {"width":170,"height":162.5,
   "resolve":{"axis":{"x":"independent"}},
   "layer":[
    {"data":{"name":"fitc_pe"},"mark":{"type":"point","shape":"square","filled":true,"size":5,"color":"#ff2b2b","opacity":1,"strokeWidth":0,"clip":true},
     "encoding":{
      "x":{"field":"fitc","type":"quantitative","title":"FITC-A","scale":{"domain":[1.03,5.39],"zero":false,"nice":false},
           "axis":{"orient":"bottom","values":[1.28,2,3,4,5],"labelExpr":"datum.value==1.28?'-10²':datum.value==2?'10²':datum.value==3?'10³':datum.value==4?'10⁴':datum.value==5?'10⁵':''","tickSize":4,"labelOverlap":false,"labelPadding":6,"titlePadding":2}},
      "y":{"field":"pe","type":"quantitative","title":"PE-A","scale":{"domain":[1.381,5.278],"zero":false,"nice":false},
           "axis":{"values":[1.9,3,4],"labelExpr":"datum.value==1.9?'-10²':datum.value==3?'10³':datum.value==4?'10⁴':''","tickSize":3,"labelOverlap":false,"labelPadding":4,"titlePadding":8}}}},
    {"data":{"values":[{}]},"mark":{"type":"rule","color":"#5a5a5a","strokeWidth":1.5},
     "encoding":{"x":{"datum":3.333,"type":"quantitative","axis":{"orient":"bottom","values":[1.1,1.46,1.64,1.82,2.301,2.477,2.602,2.699,2.778,2.845,2.903,2.954,3.301,3.477,3.602,3.699,3.778,3.845,3.903,3.954,4.301,4.477,4.602,4.699,4.778,4.845,4.903,4.954,5.301],"labels":false,"domain":false,"title":null,"tickSize":3}}}},
    {"data":{"values":[{}]},"mark":{"type":"rule","color":"#5a5a5a","strokeWidth":1.5},"encoding":{"y":{"datum":2.99,"type":"quantitative"}}},
    {"data":{"name":"quad_stats"},"transform":[{"filter":"datum.quad=='LL'"}],"mark":{"type":"text","align":"left","baseline":"middle","fontSize":10.5,"color":"#222222"},
     "encoding":{"x":{"datum":1.05,"type":"quantitative","axis":null},"y":{"datum":1.53,"type":"quantitative"},"text":{"field":"pct"}}},
    {"data":{"name":"quad_stats"},"transform":[{"filter":"datum.quad=='LR'"}],"mark":{"type":"text","align":"right","baseline":"middle","fontSize":10.5,"color":"#222222"},
     "encoding":{"x":{"datum":5.36,"type":"quantitative","axis":null},"y":{"datum":1.53,"type":"quantitative"},"text":{"field":"pct"}}},
    {"data":{"values":[{}]},"mark":{"type":"rect","filled":false,"color":"#b05a5a","strokeWidth":2},
     "encoding":{"x":{"datum":-0.249,"type":"quantitative","axis":null},"x2":{"datum":5.736},"y":{"datum":0.441,"type":"quantitative"},"y2":{"datum":5.278}}}
   ]}
 ]},
 {"width":415,"height":72,
  "layer":[
   {"data":{"values":[{}]},"mark":{"type":"rect","color":"#efefef"},
    "encoding":{"x":{"datum":0,"type":"quantitative","scale":{"domain":[0,1,2,3,4,5,6,7,8],"range":[-30,9.3,184,218.3,252.3,299.3,346,381.7,413.3],"zero":false,"nice":false},"axis":null},"x2":{"datum":8},
                "y":{"datum":0,"type":"quantitative","scale":{"domain":[0,1,2,3],"range":[1,38.6,55,71],"zero":false,"nice":false},"axis":null},"y2":{"datum":1}}},
   {"data":{"name":"cols"},"transform":[{"filter":"datum.i>0"}],"mark":{"type":"rule","color":"#c4c4c4","strokeWidth":1.5},
    "encoding":{"x":{"field":"i","type":"quantitative","scale":{"domain":[0,1,2,3,4,5,6,7,8],"range":[-30,9.3,184,218.3,252.3,299.3,346,381.7,413.3],"zero":false,"nice":false},"axis":null},
                "y":{"datum":0,"type":"quantitative","scale":{"domain":[0,1,2,3],"range":[1,38.6,55,71],"zero":false,"nice":false},"axis":null},"y2":{"datum":3}}},
   {"data":{"name":"t1"},"mark":{"type":"rule","color":"#c4c4c4","strokeWidth":1.5},
    "encoding":{"x":{"datum":0,"type":"quantitative","scale":{"domain":[0,1,2,3,4,5,6,7,8],"range":[-30,9.3,184,218.3,252.3,299.3,346,381.7,413.3],"zero":false,"nice":false},"axis":null},"x2":{"datum":8},
                "y":{"field":"row","type":"quantitative","scale":{"domain":[0,1,2,3],"range":[1,38.6,55,71],"zero":false,"nice":false},"axis":null}}},
   {"data":{"values":[{}]},"mark":{"type":"rect","filled":false,"color":"#9c9c9c","strokeWidth":2},
    "encoding":{"x":{"datum":0,"type":"quantitative","scale":{"domain":[0,1,2,3,4,5,6,7,8],"range":[-30,9.3,184,218.3,252.3,299.3,346,381.7,413.3],"zero":false,"nice":false},"axis":null},"x2":{"datum":8},
                "y":{"datum":0,"type":"quantitative","scale":{"domain":[0,1,2,3],"range":[1,38.6,55,71],"zero":false,"nice":false},"axis":null},"y2":{"datum":3}}},
   {"data":{"name":"cols"},"transform":[{"filter":"indexof(datum.header,'\\n')<0"}],"mark":{"type":"text","align":"left","baseline":"middle","dx":3.5,"fontSize":8.7,"lineBreak":"\n","lineHeight":12.3,"color":"#1e1e1e"},
    "encoding":{"x":{"field":"i","type":"quantitative","scale":{"domain":[0,1,2,3,4,5,6,7,8],"range":[-30,9.3,184,218.3,252.3,299.3,346,381.7,413.3],"zero":false,"nice":false},"axis":null},
                "y":{"datum":0.5,"type":"quantitative","scale":{"domain":[0,1,2,3],"range":[1,38.6,55,71],"zero":false,"nice":false},"axis":null},"text":{"field":"header","type":"nominal"}}},
   {"data":{"name":"cols"},"transform":[{"filter":"length(split(datum.header,'\\n'))==2"}],"mark":{"type":"text","align":"left","baseline":"middle","dx":3.5,"dy":-6.15,"fontSize":8.7,"lineBreak":"\n","lineHeight":12.3,"color":"#1e1e1e"},
    "encoding":{"x":{"field":"i","type":"quantitative","scale":{"domain":[0,1,2,3,4,5,6,7,8],"range":[-30,9.3,184,218.3,252.3,299.3,346,381.7,413.3],"zero":false,"nice":false},"axis":null},
                "y":{"datum":0.5,"type":"quantitative","scale":{"domain":[0,1,2,3],"range":[1,38.6,55,71],"zero":false,"nice":false},"axis":null},"text":{"field":"header","type":"nominal"}}},
   {"data":{"name":"cols"},"transform":[{"filter":"length(split(datum.header,'\\n'))==3"}],"mark":{"type":"text","align":"left","baseline":"middle","dx":3.5,"dy":-12.3,"fontSize":8.7,"lineBreak":"\n","lineHeight":12.3,"color":"#1e1e1e"},
    "encoding":{"x":{"field":"i","type":"quantitative","scale":{"domain":[0,1,2,3,4,5,6,7,8],"range":[-30,9.3,184,218.3,252.3,299.3,346,381.7,413.3],"zero":false,"nice":false},"axis":null},
                "y":{"datum":0.5,"type":"quantitative","scale":{"domain":[0,1,2,3],"range":[1,38.6,55,71],"zero":false,"nice":false},"axis":null},"text":{"field":"header","type":"nominal"}}},
   {"data":{"name":"t1"},"transform":[{"fold":["overlay","filename","gate","events","xmean","ymean","pgated","pall"],"as":["key","value"]},{"lookup":"key","from":{"data":{"name":"cols"},"key":"key","fields":["i"]}}],
    "mark":{"type":"text","align":"left","baseline":"middle","dx":3.5,"dy":8.2,"fontSize":8.7,"color":"#1e1e1e"},
    "encoding":{"x":{"field":"i","type":"quantitative","scale":{"domain":[0,1,2,3,4,5,6,7,8],"range":[-30,9.3,184,218.3,252.3,299.3,346,381.7,413.3],"zero":false,"nice":false},"axis":null},
                "y":{"field":"row","type":"quantitative","scale":{"domain":[0,1,2,3],"range":[1,38.6,55,71],"zero":false,"nice":false},"axis":null},"text":{"field":"value","type":"nominal"}}}
  ]},
 {"width":411,"height":103,
  "layer":[
   {"data":{"values":[{}]},"mark":{"type":"rect","color":"#efefef"},
    "encoding":{"x":{"datum":0,"type":"quantitative","scale":{"domain":[0,1,2,3,4,5,6,7,8],"range":[-21,18.3,192.7,220,254.3,301,347.7,379.3,410],"zero":false,"nice":false},"axis":null},"x2":{"datum":8},
                "y":{"datum":0,"type":"quantitative","scale":{"domain":[0,1,2,3,4,5],"range":[2.6,40.3,55.6,70.8,86,101.3],"zero":false,"nice":false},"axis":null},"y2":{"datum":1}}},
   {"data":{"name":"cols"},"transform":[{"filter":"datum.i>0"}],"mark":{"type":"rule","color":"#c4c4c4","strokeWidth":1.5},
    "encoding":{"x":{"field":"i","type":"quantitative","scale":{"domain":[0,1,2,3,4,5,6,7,8],"range":[-21,18.3,192.7,220,254.3,301,347.7,379.3,410],"zero":false,"nice":false},"axis":null},
                "y":{"datum":0,"type":"quantitative","scale":{"domain":[0,1,2,3,4,5],"range":[2.6,40.3,55.6,70.8,86,101.3],"zero":false,"nice":false},"axis":null},"y2":{"datum":5}}},
   {"data":{"name":"t2"},"mark":{"type":"rule","color":"#c4c4c4","strokeWidth":1.5},
    "encoding":{"x":{"datum":0,"type":"quantitative","scale":{"domain":[0,1,2,3,4,5,6,7,8],"range":[-21,18.3,192.7,220,254.3,301,347.7,379.3,410],"zero":false,"nice":false},"axis":null},"x2":{"datum":8},
                "y":{"field":"row","type":"quantitative","scale":{"domain":[0,1,2,3,4,5],"range":[2.6,40.3,55.6,70.8,86,101.3],"zero":false,"nice":false},"axis":null}}},
   {"data":{"values":[{}]},"mark":{"type":"rect","filled":false,"color":"#9c9c9c","strokeWidth":2},
    "encoding":{"x":{"datum":0,"type":"quantitative","scale":{"domain":[0,1,2,3,4,5,6,7,8],"range":[-21,18.3,192.7,220,254.3,301,347.7,379.3,410],"zero":false,"nice":false},"axis":null},"x2":{"datum":8},
                "y":{"datum":0,"type":"quantitative","scale":{"domain":[0,1,2,3,4,5],"range":[2.6,40.3,55.6,70.8,86,101.3],"zero":false,"nice":false},"axis":null},"y2":{"datum":5}}},
   {"data":{"name":"cols"},"transform":[{"filter":"indexof(datum.header,'\\n')<0"}],"mark":{"type":"text","align":"left","baseline":"middle","dx":3.5,"fontSize":8.7,"lineBreak":"\n","lineHeight":12.3,"color":"#1e1e1e"},
    "encoding":{"x":{"field":"i","type":"quantitative","scale":{"domain":[0,1,2,3,4,5,6,7,8],"range":[-21,18.3,192.7,220,254.3,301,347.7,379.3,410],"zero":false,"nice":false},"axis":null},
                "y":{"datum":0.5,"type":"quantitative","scale":{"domain":[0,1,2,3,4,5],"range":[2.6,40.3,55.6,70.8,86,101.3],"zero":false,"nice":false},"axis":null},"text":{"field":"header","type":"nominal"}}},
   {"data":{"name":"cols"},"transform":[{"filter":"length(split(datum.header,'\\n'))==2"}],"mark":{"type":"text","align":"left","baseline":"middle","dx":3.5,"dy":-6.15,"fontSize":8.7,"lineBreak":"\n","lineHeight":12.3,"color":"#1e1e1e"},
    "encoding":{"x":{"field":"i","type":"quantitative","scale":{"domain":[0,1,2,3,4,5,6,7,8],"range":[-21,18.3,192.7,220,254.3,301,347.7,379.3,410],"zero":false,"nice":false},"axis":null},
                "y":{"datum":0.5,"type":"quantitative","scale":{"domain":[0,1,2,3,4,5],"range":[2.6,40.3,55.6,70.8,86,101.3],"zero":false,"nice":false},"axis":null},"text":{"field":"header","type":"nominal"}}},
   {"data":{"name":"cols"},"transform":[{"filter":"length(split(datum.header,'\\n'))==3"}],"mark":{"type":"text","align":"left","baseline":"middle","dx":3.5,"dy":-12.3,"fontSize":8.7,"lineBreak":"\n","lineHeight":12.3,"color":"#1e1e1e"},
    "encoding":{"x":{"field":"i","type":"quantitative","scale":{"domain":[0,1,2,3,4,5,6,7,8],"range":[-21,18.3,192.7,220,254.3,301,347.7,379.3,410],"zero":false,"nice":false},"axis":null},
                "y":{"datum":0.5,"type":"quantitative","scale":{"domain":[0,1,2,3,4,5],"range":[2.6,40.3,55.6,70.8,86,101.3],"zero":false,"nice":false},"axis":null},"text":{"field":"header","type":"nominal"}}},
   {"data":{"name":"t2"},"transform":[{"fold":["overlay","filename","gate","events","xmean","ymean","pgated","pall"],"as":["key","value"]},{"lookup":"key","from":{"data":{"name":"cols"},"key":"key","fields":["i"]}}],
    "mark":{"type":"text","align":"left","baseline":"middle","dx":3.5,"dy":7.6,"fontSize":8.7,"color":"#1e1e1e"},
    "encoding":{"x":{"field":"i","type":"quantitative","scale":{"domain":[0,1,2,3,4,5,6,7,8],"range":[-21,18.3,192.7,220,254.3,301,347.7,379.3,410],"zero":false,"nice":false},"axis":null},
                "y":{"field":"row","type":"quantitative","scale":{"domain":[0,1,2,3,4,5],"range":[2.6,40.3,55.6,70.8,86,101.3],"zero":false,"nice":false},"axis":null},"text":{"field":"value","type":"nominal"}}}
  ]}
]
}
